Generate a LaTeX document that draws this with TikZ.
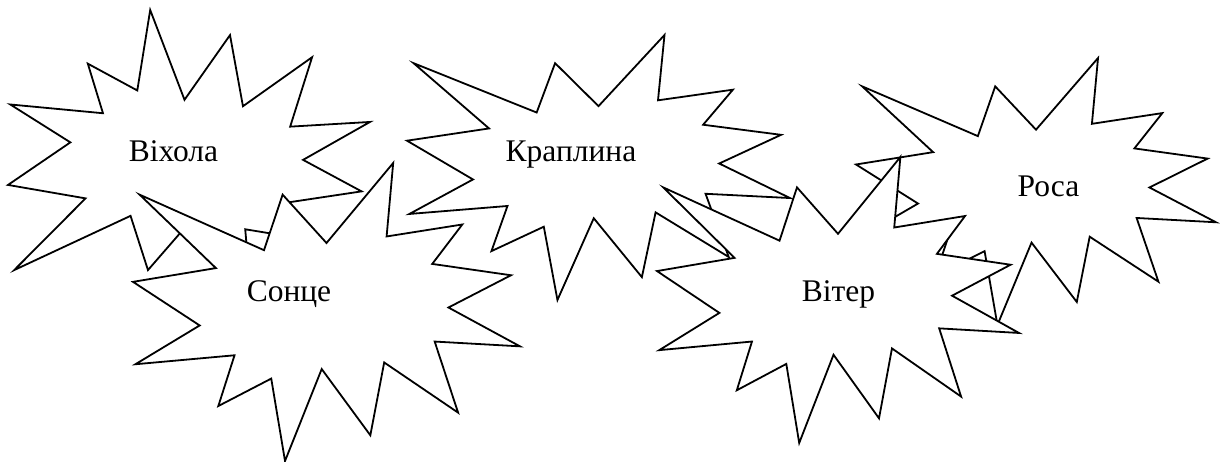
\documentclass[tikz,border=0pt]{standalone}
\usepackage{fontspec}
\setmainfont{Liberation Serif}
\tikzset{
  burstline/.style={draw=black, fill=white, line width=1.8pt, line join=miter},
  burst/.pic={
    \path[burstline] (108,58) -- (145.22,0) -- (141.55,53.25) -- (183.80,44.57)
      -- (167.02,73.15) -- (210.97,81.37) -- (176.07,104.75) -- (216,132.90)
      -- (168.37,129.42) -- (181.45,180.95) -- (140.20,144.57) -- (132.47,197.37)
      -- (105.32,149.35) -- (84.85,216) -- (77.15,156.27) -- (47.62,176.17)
      -- (56.67,139.37) -- (1.35,145.87) -- (37.22,117.75) -- (0,86.15)
      -- (46.27,76.17) -- (3.70,22.95) -- (73.12,63.20) -- (83.52,22.95) -- cycle;
  },
  word/.style={anchor=base, inner sep=0pt, font=\fontsize{31.5}{38}\selectfont}
}
\begin{document}
\begin{tikzpicture}[x=1pt,y=-1pt]
\useasboundingbox (0,0) rectangle (1220,462);
% Віхола (vertically flipped)
\pic[shift={(8,301)}, xscale=362/216, yscale=-291/216] (b1) {burst};
\node[word] (vixola) at (173.5,161.7) {Віхола};
% Краплина
\pic[shift={(407,35)}, xscale=383/216, yscale=265/216] (b2) {burst};
\node[word] (kraplyna) at (571,161.7) {Краплина};
% Роса
\pic[shift={(856,58)}, xscale=360/216, yscale=267/216] (b3) {burst};
\node[word] (rosa) at (1048.5,196.7) {Роса};
% Сонце
\pic[shift={(133,163)}, xscale=387/216, yscale=298/216] (b4) {burst};
\node[word] (sontse) at (289,301.7) {Сонце};
% Вітер
\pic[shift={(657,157)}, xscale=362/216, yscale=286/216] (b5) {burst};
\node[word] (viter) at (838.5,301.7) {Вітер};
\end{tikzpicture}
\end{document}
